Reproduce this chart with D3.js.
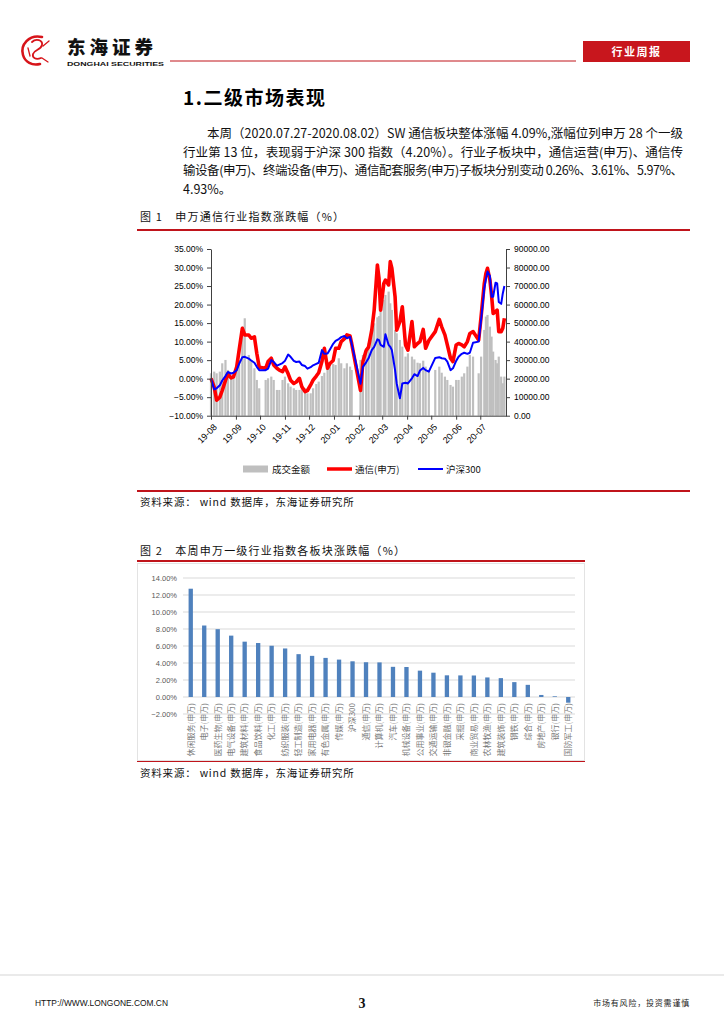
<!DOCTYPE html>
<html>
<head>
<meta charset="utf-8">
<script src="https://cdn.jsdelivr.net/npm/d3@7"></script>
<style>
body { margin: 0; background: #fff; }
svg { display: block; font-family: "Noto Sans CJK SC", "Noto Sans", sans-serif; }
.num { font-family: "Liberation Sans", Arial, sans-serif; }
</style>
</head>
<body>
<svg id="page" width="724" height="1024"></svg>
<script>
// ---- figure 1 data: 申万通信 vs 沪深300, plus turnover
const days = ["2019-08-01","2019-08-05","2019-08-08","2019-08-12","2019-08-15","2019-08-19","2019-08-22","2019-08-26","2019-08-29",
  "2019-09-02","2019-09-05","2019-09-09","2019-09-12","2019-09-17","2019-09-20","2019-09-24","2019-09-27","2019-09-30",
  "2019-10-08","2019-10-11","2019-10-15","2019-10-18","2019-10-22","2019-10-25","2019-10-29",
  "2019-11-01","2019-11-05","2019-11-08","2019-11-12","2019-11-15","2019-11-19","2019-11-22","2019-11-26","2019-11-29",
  "2019-12-03","2019-12-06","2019-12-10","2019-12-13","2019-12-17","2019-12-20","2019-12-24","2019-12-27","2019-12-31",
  "2020-01-03","2020-01-07","2020-01-10","2020-01-14","2020-01-17","2020-01-21","2020-01-23",
  "2020-02-03","2020-02-06","2020-02-10","2020-02-13","2020-02-17","2020-02-20","2020-02-24","2020-02-26","2020-02-28",
  "2020-03-03","2020-03-05","2020-03-09","2020-03-11","2020-03-13","2020-03-17","2020-03-19","2020-03-23","2020-03-26","2020-03-30",
  "2020-04-02","2020-04-07","2020-04-10","2020-04-14","2020-04-17","2020-04-21","2020-04-24","2020-04-28",
  "2020-05-06","2020-05-11","2020-05-14","2020-05-18","2020-05-21","2020-05-25","2020-05-28",
  "2020-06-01","2020-06-04","2020-06-08","2020-06-11","2020-06-15","2020-06-18","2020-06-22","2020-06-29",
  "2020-07-02","2020-07-06","2020-07-08","2020-07-10","2020-07-13","2020-07-15","2020-07-17","2020-07-20","2020-07-22","2020-07-24","2020-07-27","2020-07-29","2020-07-31"];

const tongxin = [0.1,-2.3,-5.8,-5.0,-3.2,-0.5,1.3,0.2,0.5,
  3.2,7.7,13.6,11.8,11.8,10.9,11.3,6.8,3.1,
  2.8,4.6,5.5,3.7,2.8,2.3,1.9,
  3.2,1.3,-0.4,-1.3,-0.9,0.1,-2.2,-3.5,-3.2,
  -1.7,-0.4,0.7,1.6,4.6,8.2,2.8,4.1,4.9,
  8.2,8.2,10.0,10.8,11.8,11.5,9.5,
  -3.2,4.6,7.6,8.5,13.1,18.5,30.7,27.1,18.5,
  25.7,26.6,25.3,31.6,29.8,22.1,13.1,15.4,19.4,9.1,
  7.7,15.4,8.6,9.5,10.0,13.3,8.2,10.3,
  12.7,16.0,14.0,11.8,9.1,5.5,4.6,
  9.1,9.5,9.1,8.6,10.0,12.2,12.7,10.4,
  16.7,25.7,28.4,29.8,26.6,22.6,17.6,18.1,18.5,12.7,12.7,13.6,16.3];

const hs300 = [0.0,-2.9,-2.6,-1.8,-0.5,0.7,1.8,1.4,1.6,
  2.3,4.0,5.8,5.9,5.4,4.9,4.3,3.2,2.3,
  2.3,2.7,5.0,4.5,3.5,3.8,4.2,
  4.8,6.5,5.9,4.8,4.5,4.6,3.7,3.4,2.7,
  3.1,3.6,4.0,4.3,7.7,6.7,6.8,7.9,9.4,
  10.2,10.7,11.2,11.5,10.9,11.3,9.5,
  -1.4,3.2,4.4,5.5,7.7,8.6,10.6,10.4,9.1,
  8.6,12.0,9.1,8.6,7.7,2.3,-1.3,-5.3,-1.3,-1.1,
  -1.3,0.1,1.2,0.7,2.2,2.9,2.3,1.9,
  5.6,5.8,5.5,5.4,4.6,2.3,2.8,
  4.8,5.9,6.7,7.0,6.7,7.0,9.7,10.0,
  15.8,24.4,26.8,28.9,27.7,22.1,22.1,25.9,25.7,20.7,20.2,23.0,25.0];

const volume = [22900,23800,22900,23800,28300,30100,24700,20200,21100,
  24700,30100,48100,52600,32800,30100,25600,19300,14800,
  19300,20200,21100,19300,13900,13900,19300,
  21100,17500,15700,14800,13900,13900,14800,14800,12100,
  12100,14800,17100,18400,21400,23200,25000,26500,27900,
  27400,31000,28300,25600,28300,26500,24700,
  30100,32800,36400,39100,46300,49900,53100,53800,56200,
  62500,65200,67000,60700,57100,46300,44500,40900,37300,31900,
  33700,31900,30400,28600,28300,29700,26500,24700,
  24700,26500,23200,21100,19300,16600,15700,
  19300,19300,21100,22900,26500,32800,31900,22900,
  31900,46300,53500,54400,48100,42700,34600,30100,28300,31900,21100,17500,21100];

const monthTicks = ["2019-08-01","2019-09-01","2019-10-01","2019-11-01","2019-12-01","2020-01-01",
  "2020-02-01","2020-03-01","2020-04-01","2020-05-01","2020-06-01","2020-07-01"];
const pctTicksLeft = [-10, -5, 0, 5, 10, 15, 20, 25, 30, 35];
const volTicksRight = [0, 10000, 20000, 30000, 40000, 50000, 60000, 70000, 80000, 90000];

// ---- figure 2 data: weekly change of Shenwan level-1 industries
const industries = ["休闲服务(申万)","电子(申万)","医药生物(申万)","电气设备(申万)","建筑材料(申万)","食品饮料(申万)",
  "化工(申万)","纺织服装(申万)","轻工制造(申万)","家用电器(申万)","有色金属(申万)","传媒(申万)","沪深300",
  "通信(申万)","计算机(申万)","汽车(申万)","机械设备(申万)","公用事业(申万)","交通运输(申万)","非银金融(申万)",
  "采掘(申万)","商业贸易(申万)","农林牧渔(申万)","建筑装饰(申万)","钢铁(申万)","综合(申万)","房地产(申万)",
  "银行(申万)","国防军工(申万)"];
const weekChange = [12.74,8.41,7.98,7.22,6.51,6.35,6.03,5.71,5.04,4.84,4.60,4.40,4.20,
  4.09,4.07,3.55,3.53,3.10,2.86,2.55,2.54,2.53,2.30,2.22,1.75,1.43,0.24,0.08,-0.67];
const pctTicks2 = [-2, 0, 2, 4, 6, 8, 10, 12, 14];

const paragraph = [
  "本周（2020.07.27-2020.08.02）SW 通信板块整体涨幅 4.09%,涨幅位列申万 28 个一级",
  "行业第 13 位，表现弱于沪深 300 指数（4.20%）。行业子板块中，通信运营(申万)、通信传",
  "输设备(申万)、终端设备(申万)、通信配套服务(申万)子板块分别变动 0.26%、3.61%、5.97%、",
  "4.93%。"
];

const svg = d3.select('#page');
const RED = '#c0141b';
const parse = d3.timeParse('%Y-%m-%d');

// ---------- header
const logo = svg.append('g')
  .attr('transform', 'translate(37,50)')
  .attr('fill', 'none')
  .attr('stroke', '#d7141a')
  .attr('stroke-linecap', 'round');
logo.append('path').attr('d', 'M5,-13 C-8,-16 -17,-5 -14,5 C-12,12 -5,16 3,14').attr('stroke-width', 2.6);
logo.append('path').attr('d', 'M-5,-8 C-1,-12 6,-10 5,-5 C4,0 -3,0 -4,4 C-5,8 -1,10 4,8').attr('stroke-width', 1.8);
logo.append('path').attr('d', 'M6,-4 L12,-9 M5,8 L11,12 M-9,-2 L-7,6').attr('stroke-width', 1.3);

svg.append('text').attr('x', 67).attr('y', 54)
  .attr('font-size', 18.5).attr('font-weight', 900).attr('letter-spacing', 4)
  .attr('fill', '#111').text('东海证券');
svg.append('text').attr('x', 67).attr('y', 65.5)
  .attr('class', 'num').attr('font-size', 6).attr('font-weight', 'bold')
  .attr('textLength', 97).attr('lengthAdjust', 'spacingAndGlyphs')
  .attr('fill', '#111').text('DONGHAI SECURITIES');
svg.append('line').attr('x1', 170).attr('x2', 576).attr('y1', 61).attr('y2', 61)
  .attr('stroke', RED).attr('stroke-width', 1);
svg.append('rect').attr('x', 583).attr('y', 41).attr('width', 107).attr('height', 21).attr('fill', '#c8161d');
svg.append('text').attr('x', 636.5).attr('y', 55.5).attr('text-anchor', 'middle')
  .attr('font-size', 11).attr('font-weight', 'bold').attr('letter-spacing', 1.5)
  .attr('fill', '#fff').text('行业周报');

// ---------- section title + paragraph
svg.append('text').attr('x', 183).attr('y', 105)
  .attr('font-size', 19).attr('font-weight', 'bold').attr('letter-spacing', 1.5)
  .attr('fill', '#000').text('1.二级市场表现');

const lineY = [138, 156.5, 175, 193.5];
svg.append('g').selectAll('text').data(paragraph).join('text')
  .attr('x', (d, i) => i === 0 ? 207 : 183)
  .attr('y', (d, i) => lineY[i])
  .attr('font-size', 12.5)
  .attr('fill', '#111')
  .each(function (d, i) {
    if (i < 3) d3.select(this).attr('textLength', i === 0 ? 476 : 500).attr('lengthAdjust', 'spacing');
  })
  .text(d => d);

// ---------- captions, rules, sources
const caption = (y, txt) => svg.append('text').attr('x', 140).attr('y', y)
  .attr('font-size', 11).attr('letter-spacing', 1.2).attr('fill', '#111').text(txt);
const rule = (y, x2) => svg.append('line').attr('x1', 137).attr('x2', x2).attr('y1', y).attr('y2', y)
  .attr('stroke', RED).attr('stroke-width', 2);
const source = y => svg.append('text').attr('x', 140).attr('y', y)
  .attr('font-size', 10.5).attr('letter-spacing', 0.8).attr('fill', '#111')
  .text('资料来源：  wind 数据库，东海证券研究所');

caption(221, '图 1　申万通信行业指数涨跌幅（%）');
rule(230, 690);
rule(491, 690);
source(506);

caption(555, '图 2　本周申万一级行业指数各板块涨跌幅（%）');
rule(561, 585);
rule(761, 585);
source(777);

// ---------- figure 1
const x1 = d3.scaleTime().domain([parse('2019-08-01'), parse('2020-08-02')]).range([211, 506]);
const yL = d3.scaleLinear().domain([-10, 35]).range([415.7, 249]);
const yR = d3.scaleLinear().domain([0, 90000]).range([415.7, 249]);

const fig1 = svg.append('g');

fig1.append('g').selectAll('rect').data(volume).join('rect')
  .attr('x', (d, i) => x1(parse(days[i])) - 1.1)
  .attr('width', 2.2)
  .attr('y', d => yR(d))
  .attr('height', d => yR(0) - yR(d))
  .attr('fill', '#bfbfbf');

const line = series => d3.line()
  .x((d, i) => x1(parse(days[i])))
  .y(d => yL(d))(series);

fig1.append('path').attr('d', line(tongxin))
  .attr('fill', 'none').attr('stroke', '#ff0000').attr('stroke-width', 3.6).attr('stroke-linejoin', 'round');
fig1.append('path').attr('d', line(hs300))
  .attr('fill', 'none').attr('stroke', '#0000ff').attr('stroke-width', 2).attr('stroke-linejoin', 'round');

const styleAxis = g => {
  g.select('.domain').attr('stroke', '#404040');
  g.selectAll('.tick line').attr('stroke', '#404040');
  g.selectAll('.tick text').attr('class', 'num').attr('font-size', 8.5).attr('fill', '#000');
};

fig1.append('g').attr('transform', 'translate(211,0)')
  .call(d3.axisLeft(yL).tickValues(pctTicksLeft).tickSize(4).tickSizeOuter(0).tickPadding(4)
    .tickFormat(d => d3.format('.2f')(d) + '%'))
  .call(styleAxis);

fig1.append('g').attr('transform', 'translate(506,0)')
  .call(d3.axisRight(yR).tickValues(volTicksRight).tickSize(4).tickSizeOuter(0).tickPadding(4)
    .tickFormat(d3.format('.2f')))
  .call(styleAxis);

fig1.append('g').attr('transform', 'translate(0,415.7)')
  .call(d3.axisBottom(x1).tickValues(monthTicks.map(parse)).tickSize(4).tickSizeOuter(0)
    .tickFormat(d3.timeFormat('%y-%m')))
  .call(styleAxis)
  .call(g => g.selectAll('.tick text')
    .attr('y', null).attr('dy', null)
    .attr('text-anchor', 'end')
    .attr('font-size', 9)
    .attr('transform', 'translate(6,12) rotate(-45)'));

// legend
const legend = fig1.append('g').attr('transform', 'translate(0,469)');
legend.append('rect').attr('x', 243).attr('y', -3.5).attr('width', 25).attr('height', 7).attr('fill', '#bfbfbf');
legend.append('line').attr('x1', 327).attr('x2', 352).attr('stroke', '#ff0000').attr('stroke-width', 3.5);
legend.append('line').attr('x1', 418).attr('x2', 443).attr('stroke', '#0000ff').attr('stroke-width', 2);
legend.selectAll('text').data([[272, '成交金额'], [355, '通信(申万)'], [446, '沪深300']]).join('text')
  .attr('x', d => d[0]).attr('y', 3.5).attr('font-size', 9.5).attr('fill', '#111').text(d => d[1]);

// ---------- figure 2
const fig2 = svg.append('g');
fig2.append('rect').attr('x', 137.5).attr('y', 563.5).attr('width', 447).attr('height', 197)
  .attr('fill', 'none').attr('stroke', '#e3e3e3');

const x2 = d3.scaleBand().domain(industries).range([184, 575]).paddingInner(0.68).paddingOuter(0.34);
const y2 = d3.scaleLinear().domain([-2, 14]).range([714, 578]);

fig2.append('g').selectAll('line').data(pctTicks2).join('line')
  .attr('x1', 183).attr('x2', 575)
  .attr('y1', d => y2(d)).attr('y2', d => y2(d))
  .attr('stroke', '#d9d9d9').attr('stroke-width', 1);

fig2.append('g').selectAll('text').data(pctTicks2).join('text')
  .attr('class', 'num')
  .attr('x', 177).attr('y', d => y2(d) + 2.7)
  .attr('text-anchor', 'end').attr('font-size', 7.5).attr('fill', '#595959')
  .text(d => d3.format('.2f')(d) + '%');

fig2.append('g').selectAll('rect').data(weekChange).join('rect')
  .attr('x', (d, i) => x2(industries[i]))
  .attr('width', x2.bandwidth())
  .attr('y', d => y2(Math.max(0, d)))
  .attr('height', d => Math.abs(y2(d) - y2(0)))
  .attr('fill', '#4f81bd');

fig2.append('g').selectAll('text').data(industries).join('text')
  .attr('transform', d => `translate(${x2(d) + x2.bandwidth() / 2 + 2.8},703) rotate(-90)`)
  .attr('text-anchor', 'end').attr('font-size', 8).attr('fill', '#7a7a7a')
  .text(d => d);

// ---------- footer
svg.append('line').attr('x1', 0).attr('x2', 724).attr('y1', 975).attr('y2', 975)
  .attr('stroke', '#bbb').attr('stroke-width', 0.6);
svg.append('text').attr('x', 35).attr('y', 1006).attr('class', 'num')
  .attr('font-size', 9).attr('textLength', 133).attr('lengthAdjust', 'spacingAndGlyphs')
  .attr('fill', '#111').text('HTTP://WWW.LONGONE.COM.CN');
svg.append('text').attr('x', 362).attr('y', 1008).attr('text-anchor', 'middle')
  .attr('font-family', '"Liberation Serif", serif').attr('font-size', 14).attr('font-weight', 'bold')
  .attr('fill', '#111').text('3');
svg.append('text').attr('x', 690).attr('y', 1006).attr('text-anchor', 'end')
  .attr('font-size', 8).attr('letter-spacing', 0.8).attr('fill', '#222').text('市场有风险，投资需谨慎');
</script>
</body>
</html>
